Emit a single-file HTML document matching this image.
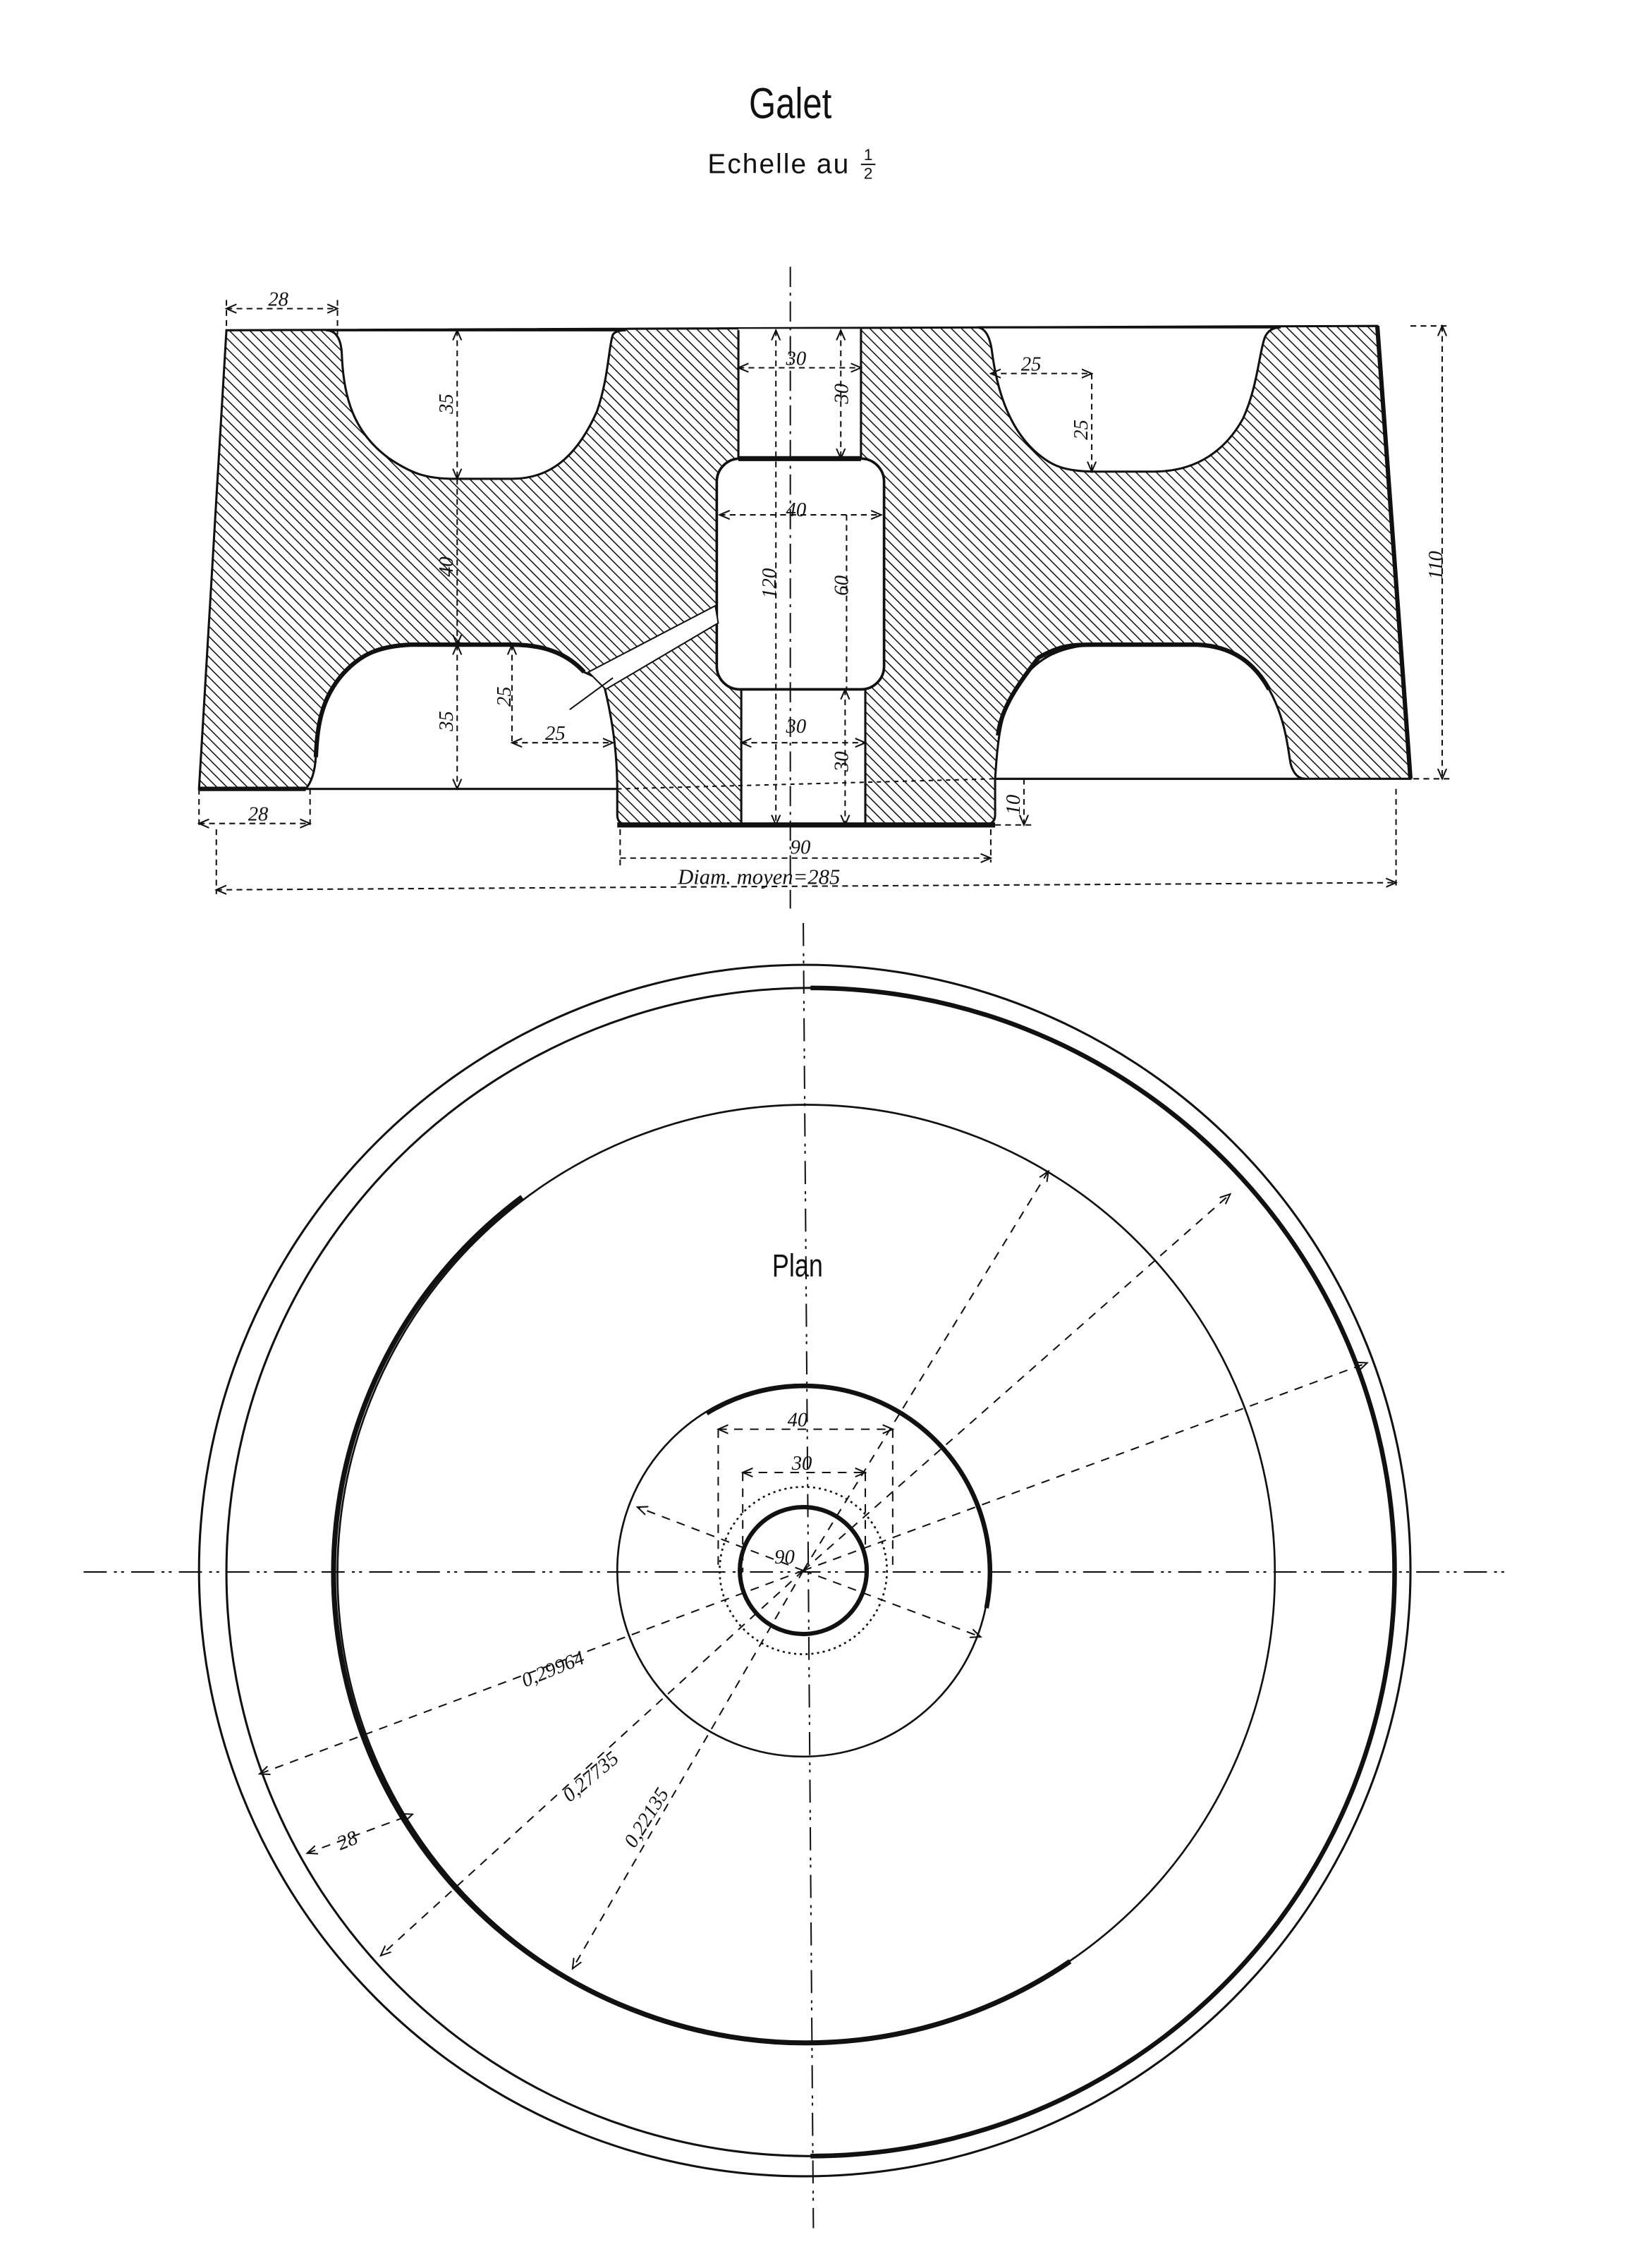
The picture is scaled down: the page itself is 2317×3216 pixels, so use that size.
<!DOCTYPE html>
<html><head><meta charset="utf-8"><style>
html,body{margin:0;padding:0;background:#fff}
svg{display:block}
text{font-family:"Liberation Sans",sans-serif;fill:#111}
.it{font-style:italic;font-family:"Liberation Serif",serif}
</style></head><body>
<svg width="2317" height="3216" viewBox="0 0 1133 1572.6" preserveAspectRatio="none" xmlns="http://www.w3.org/2000/svg">
<defs>
<pattern id="h" patternUnits="userSpaceOnUse" width="5" height="5" patternTransform="rotate(-45)">
<rect width="5" height="5" fill="#fff"/><line x1="0" y1="0" x2="0" y2="5" stroke="#111" stroke-width="1.5"/>
</pattern>
<marker id="a" markerWidth="8" markerHeight="8" refX="7" refY="4" orient="auto-start-reverse" markerUnits="userSpaceOnUse"><path d="M0,1 L7,4 L0,7" fill="none" stroke="#111" stroke-width="1"/></marker>
</defs>

<text x="548" y="82" font-size="30" text-anchor="middle" transform="translate(548,0) scale(0.8,1) translate(-548,0)">Galet</text>
<text x="540" y="120" font-size="19" text-anchor="middle" letter-spacing="1">Echelle au</text>
<text x="602" y="111" font-size="11" text-anchor="middle">1</text>
<line x1="597" y1="114" x2="607" y2="114" stroke="#111"/>
<text x="602" y="124" font-size="11" text-anchor="middle">2</text>

<!-- SECTION -->
<path d="M157,229 L955,226 L978,540 L690,540 L690,565 Q690,572 682,572 L436,572 Q428,572 428,565 L428,547 L138,547 Z" fill="url(#h)" stroke="#111" stroke-width="1.5"/>
<path d="M226,229 Q236,229 237,245 C238,275 245,300 270,318 C285,328 295,332 315,332 L355,332 C385,332 402,312 414,285 C422,262 422,240 425,232 Q427,229 434,229 Z" fill="#fff" stroke="#111" stroke-width="1.5"/>
<path d="M678,227 Q686,228 688,245 C692,275 702,300 720,315 C730,323 738,327 760,327 L800,327 C830,327 850,312 862,290 C872,268 873,245 877,234 Q880,227 888,227 Z" fill="#fff" stroke="#111" stroke-width="1.5"/>
<path d="M212,547 Q218,540 219,525 C220,505 222,485 238,467 C250,454 262,448 285,447 L355,447 C380,447 395,455 405,466 L418,472 C424,495 428,520 428,547 Z" fill="#fff" stroke="#111" stroke-width="1.5"/>
<path d="M219,525 C220,505 222,485 238,467 C250,454 262,448 285,447 L355,447 C380,447 395,455 405,466" fill="none" stroke="#111" stroke-width="3"/>
<path d="M690,540 C692,510 694,490 708,472 C720,456 735,448 760,447 L830,447 C855,448 870,460 880,478 C892,500 893,520 895,530 Q898,540 905,540 Z" fill="#fff" stroke="#111" stroke-width="1.5"/>
<path d="M692,510 C694,490 708,472 720,456 C735,448 740,447 760,447 L830,447 C855,448 870,460 880,478" fill="none" stroke="#111" stroke-width="3"/>
<rect x="512" y="228" width="85" height="92" fill="#fff"/>
<line x1="512" y1="229" x2="512" y2="318" stroke="#111" stroke-width="1.5"/>
<line x1="597" y1="228" x2="597" y2="318" stroke="#111" stroke-width="1.5"/>
<rect x="514" y="476" width="86" height="96" fill="#fff"/>
<line x1="514" y1="478" x2="514" y2="572" stroke="#111" stroke-width="1.5"/>
<line x1="600" y1="478" x2="600" y2="572" stroke="#111" stroke-width="1.5"/>
<rect x="497" y="318" width="116" height="160" rx="16" fill="#fff" stroke="#111" stroke-width="1.8"/>
<line x1="512" y1="318" x2="597" y2="318" stroke="#111" stroke-width="3.5"/>
<line x1="428" y1="572" x2="690" y2="572" stroke="#111" stroke-width="3.5"/>
<line x1="138" y1="547" x2="212" y2="547" stroke="#111" stroke-width="3"/>
<line x1="955" y1="226" x2="978" y2="540" stroke="#111" stroke-width="3"/>
<path d="M408,466 L496,420 L498,432 L420,478 Z" fill="#fff" stroke="#111" stroke-width="1"/>
<line x1="395" y1="492" x2="425" y2="470" stroke="#111" stroke-width="1"/>
<line x1="548" y1="185" x2="548" y2="630" stroke="#111" stroke-width="1" stroke-dasharray="14,4,2,4"/>
<line x1="428" y1="547" x2="690" y2="540" stroke="#111" stroke-width="1" stroke-dasharray="3,3"/>
<g stroke="#111" stroke-width="1" stroke-dasharray="4,3" fill="none">
<line x1="157" y1="214" x2="234" y2="214" marker-start="url(#a)" marker-end="url(#a)"/>
<line x1="157" y1="208" x2="157" y2="229"/><line x1="234" y1="208" x2="234" y2="232"/>
<line x1="317" y1="229" x2="317" y2="332" marker-start="url(#a)" marker-end="url(#a)"/>
<line x1="317" y1="332" x2="317" y2="447" marker-end="url(#a)"/>
<line x1="317" y1="447" x2="317" y2="547" marker-start="url(#a)" marker-end="url(#a)"/>
<line x1="512" y1="255" x2="597" y2="255" marker-start="url(#a)" marker-end="url(#a)"/>
<line x1="583" y1="229" x2="583" y2="318" marker-start="url(#a)" marker-end="url(#a)"/>
<line x1="538" y1="229" x2="538" y2="572" marker-start="url(#a)" marker-end="url(#a)"/>
<line x1="499" y1="357" x2="611" y2="357" marker-start="url(#a)" marker-end="url(#a)"/>
<line x1="587" y1="357" x2="587" y2="478"/>
<line x1="514" y1="515" x2="600" y2="515" marker-start="url(#a)" marker-end="url(#a)"/>
<line x1="586" y1="478" x2="586" y2="572" marker-start="url(#a)" marker-end="url(#a)"/>
<line x1="687" y1="259" x2="757" y2="259" marker-start="url(#a)" marker-end="url(#a)"/>
<line x1="757" y1="259" x2="757" y2="327" marker-end="url(#a)"/>
<line x1="355" y1="447" x2="355" y2="515" marker-start="url(#a)"/>
<line x1="355" y1="515" x2="425" y2="515" marker-start="url(#a)" marker-end="url(#a)"/>
<line x1="138" y1="547" x2="138" y2="575"/><line x1="215" y1="547" x2="215" y2="575"/>
<line x1="138" y1="571" x2="215" y2="571" marker-start="url(#a)" marker-end="url(#a)"/>
<line x1="430" y1="575" x2="430" y2="600"/><line x1="687" y1="575" x2="687" y2="598"/>
<line x1="430" y1="595" x2="687" y2="595" marker-end="url(#a)"/>
<line x1="690" y1="572" x2="715" y2="572"/><line x1="710" y1="540" x2="710" y2="572" marker-end="url(#a)"/>
<line x1="150" y1="575" x2="150" y2="620"/><line x1="968" y1="547" x2="968" y2="615"/>
<line x1="150" y1="617" x2="968" y2="612" marker-start="url(#a)" marker-end="url(#a)"/>
<line x1="978" y1="226" x2="1005" y2="226"/><line x1="980" y1="540" x2="1005" y2="540"/>
<line x1="1000" y1="226" x2="1000" y2="540" marker-start="url(#a)" marker-end="url(#a)"/>
</g>
<g class="it" font-size="14">
<text x="186" y="212" class="it">28</text>
<text x="172" y="569" class="it">28</text>
<text x="378" y="513" class="it">25</text>
<text x="708" y="257" class="it">25</text>
<text x="545" y="253" class="it">30</text>
<text x="545" y="508" class="it">30</text>
<text x="545" y="358" class="it">40</text>
<text x="548" y="592" class="it">90</text>
<text x="470" y="613" class="it" font-size="15">Diam. moyen=285</text>
<text class="it" transform="translate(314,287) rotate(-90)">35</text>
<text class="it" transform="translate(314,400) rotate(-90)">40</text>
<text class="it" transform="translate(314,507) rotate(-90)">35</text>
<text class="it" transform="translate(354,490) rotate(-90)">25</text>
<text class="it" transform="translate(754,305) rotate(-90)">25</text>
<text class="it" transform="translate(588,280) rotate(-90)">30</text>
<text class="it" transform="translate(588,535) rotate(-90)">30</text>
<text class="it" transform="translate(538,415) rotate(-90)">120</text>
<text class="it" transform="translate(588,413) rotate(-90)">60</text>
<text class="it" transform="translate(707,565) rotate(-90)">10</text>
<text class="it" transform="translate(1000,402) rotate(-90)">110</text>
</g>

<g fill="none" stroke="#111">
<line x1="58" y1="1090" x2="1045" y2="1090" stroke-width="1" stroke-dasharray="16,5,2,3,2,5"/>
<line x1="557" y1="640" x2="564" y2="1545" stroke-width="1" stroke-dasharray="16,5,2,3,2,5"/>
<circle cx="558" cy="1089" r="420" stroke-width="1.5"/>
<circle cx="562" cy="1090" r="405" stroke-width="1.5"/>
<path d="M562,685 A405,405 0 0 1 562,1495" stroke-width="3.2"/>
<circle cx="559" cy="1091" r="325" stroke-width="1.3"/>
<path d="M440,1394 A325,325 0 0 1 362,830" stroke-width="3.5"/>
<path d="M742,1360 A325,325 0 0 1 440,1394" stroke-width="3.5"/>
<circle cx="557" cy="1089" r="129" stroke-width="1.3"/>
<path d="M490,980 A129,129 0 0 1 684,1115" stroke-width="3.2"/>
<circle cx="557" cy="1089" r="58" stroke-width="1.3" stroke-dasharray="1.5,2.5"/>
<circle cx="557" cy="1089" r="44" stroke-width="3"/>
</g>
<g stroke="#111" stroke-width="1" stroke-dasharray="6,5" fill="none">
<line x1="557" y1="1089" x2="727" y2="812" marker-end="url(#a)"/>
<line x1="557" y1="1089" x2="853" y2="828" marker-end="url(#a)"/>
<line x1="557" y1="1089" x2="948" y2="945" marker-end="url(#a)"/>
<line x1="557" y1="1089" x2="180" y2="1230" marker-end="url(#a)"/>
<line x1="557" y1="1089" x2="264" y2="1356" marker-end="url(#a)"/>
<line x1="557" y1="1089" x2="397" y2="1365" marker-end="url(#a)"/>
<line x1="557" y1="1089" x2="442" y2="1045" marker-end="url(#a)"/>
<line x1="557" y1="1089" x2="680" y2="1135" marker-end="url(#a)"/>
<line x1="213" y1="1285" x2="286" y2="1258" marker-start="url(#a)" marker-end="url(#a)"/>
<line x1="498" y1="991" x2="619" y2="991" marker-start="url(#a)" marker-end="url(#a)"/>
<line x1="498" y1="991" x2="498" y2="1090"/><line x1="619" y1="991" x2="619" y2="1090"/>
<line x1="515" y1="1021" x2="600" y2="1021" marker-start="url(#a)" marker-end="url(#a)"/>
<line x1="515" y1="1021" x2="515" y2="1090"/><line x1="600" y1="1021" x2="600" y2="1090"/>
</g>
<text x="553" y="885" font-size="22" text-anchor="middle" transform="translate(553,0) scale(0.8,1) translate(-553,0)">Plan</text>
<g class="it" font-size="14">
<text x="546" y="989" class="it">40</text>
<text x="549" y="1019" class="it">30</text>
<text x="537" y="1084" class="it">90</text>
<text class="it" transform="translate(364,1170) rotate(-22)">0,29964</text>
<text class="it" transform="translate(395,1250) rotate(-40)">0,27735</text>
<text class="it" transform="translate(440,1282) rotate(-58)">0,22135</text>
<text class="it" transform="translate(236,1283) rotate(-22)">28</text>
</g>
</svg>
</body></html>
